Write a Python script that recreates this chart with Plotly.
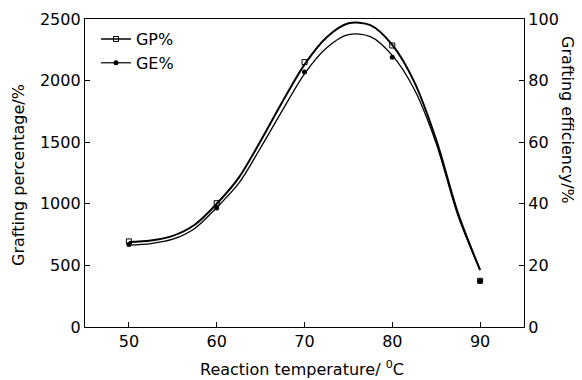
import plotly.graph_objects as go

# Measured data points
temps = [50, 60, 70, 80, 90]
gp_points = [695, 1005, 2150, 2285, 375]          # Grafting percentage /%
ge_points = [26.8, 38.6, 82.8, 87.6, 14.9]         # Grafting efficiency /%

# Fitted curves
fit_temps = [50, 52.5, 55, 57.5, 60, 62.5, 65, 67.5, 70, 72.5, 75, 77.5, 80, 82.5, 85, 87.5, 90]
gp_fit = [690, 702, 740, 830, 1000, 1210, 1510, 1830, 2130, 2350, 2465, 2450, 2290, 1990, 1520, 920, 463]
ge_fit = [26.6, 27.1, 28.5, 32.0, 38.8, 46.6, 58.2, 70.4, 82.2, 90.6, 94.9, 94.3, 88.2, 77.2, 59.6, 36.0, 18.4]

x_ticks = [50, 60, 70, 80, 90]
y_ticks = [0, 500, 1000, 1500, 2000, 2500]
y2_ticks = [0, 20, 40, 60, 80, 100]

FONT = "DejaVu Sans"

fig = go.Figure()

fig.add_trace(go.Scatter(x=fit_temps, y=gp_fit, mode="lines",
                         line=dict(color="black", width=2, shape="spline", smoothing=0.9),
                         showlegend=False, yaxis="y"))
fig.add_trace(go.Scatter(x=fit_temps, y=ge_fit, mode="lines",
                         line=dict(color="black", width=1.3, shape="spline", smoothing=0.9),
                         showlegend=False, yaxis="y2"))
fig.add_trace(go.Scatter(x=temps, y=gp_points, mode="markers",
                         marker=dict(symbol="square-open", size=5, color="black", line=dict(width=1)),
                         showlegend=False, yaxis="y"))
fig.add_trace(go.Scatter(x=temps, y=ge_points, mode="markers",
                         marker=dict(symbol="circle", size=5, color="black"),
                         showlegend=False, yaxis="y2"))

# legend entries
fig.add_trace(go.Scatter(x=[None], y=[None], mode="lines+markers", name="GP%",
                         line=dict(color="black", width=1.5),
                         marker=dict(symbol="square-open", size=5, color="black", line=dict(width=1))))
fig.add_trace(go.Scatter(x=[None], y=[None], mode="lines+markers", name="GE%",
                         line=dict(color="black", width=1.2),
                         marker=dict(symbol="circle", size=5, color="black")))

axis_common = dict(showgrid=False, zeroline=False, showline=True, linecolor="black", linewidth=1.3,
                   ticks="inside", ticklen=5, tickwidth=1.2, tickcolor="black", automargin=False,
                   tickfont=dict(family=FONT, size=16, color="black"))

fig.update_layout(
    width=582, height=380,
    margin=dict(l=85, r=58, t=19, b=53),
    paper_bgcolor="white", plot_bgcolor="white",
    font=dict(family=FONT, size=16, color="black"),
    xaxis=dict(range=[45, 95], tickvals=x_ticks, mirror=True, **axis_common),
    yaxis=dict(range=[0, 2500], tickvals=y_ticks, **axis_common),
    yaxis2=dict(range=[0, 100], tickvals=y2_ticks, overlaying="y", side="right", **axis_common),
    legend=dict(x=0.025, y=0.99, xanchor="left", yanchor="top", bgcolor="rgba(0,0,0,0)",
                font=dict(family=FONT, size=16), tracegroupgap=0, itemwidth=30),
    annotations=[
        dict(text="Reaction temperature/ <sup>0</sup>C", xref="paper", yref="paper", x=0.494, y=-0.136,
             xanchor="center", yanchor="middle", showarrow=False, font=dict(family=FONT, size=16)),
        dict(text="Grafting percentage/%", xref="paper", yref="paper", x=-0.150, y=0.494,
             xanchor="center", yanchor="middle", textangle=-90, showarrow=False, font=dict(family=FONT, size=16)),
        dict(text="Grafting efficiency/%", xref="paper", yref="paper", x=1.100, y=0.672,
             xanchor="center", yanchor="middle", textangle=90, showarrow=False, font=dict(family=FONT, size=16)),
    ],
)

fig.write_html("out.html", config={"displayModeBar": False},
               post_script="document.body.style.margin='0px';")
